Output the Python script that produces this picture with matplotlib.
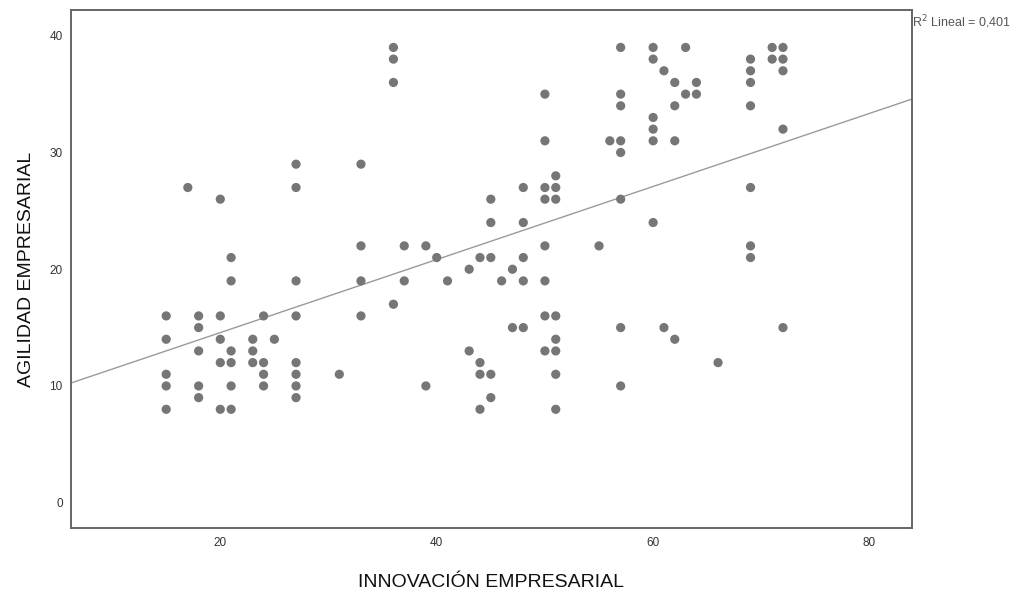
import numpy as np
import matplotlib
matplotlib.use("Agg")
import matplotlib.pyplot as plt

plt.rcParams['font.family'] = ['Liberation Sans', 'DejaVu Sans']

# INNOVACIÓN EMPRESARIAL score -> list of AGILIDAD EMPRESARIAL scores observed
innovacion = [15, 17, 18, 20, 21, 23, 24, 25, 27, 31, 33, 36, 37, 39, 40, 41, 43, 44,
              45, 46, 47, 48, 50, 51, 55, 56, 57, 60, 61, 62, 63, 64, 66, 69, 71, 72]
agilidad = [
    [16, 14, 11, 10, 8],
    [27],
    [16, 15, 13, 10, 9],
    [26, 16, 14, 12, 8],
    [21, 19, 13, 12, 10, 8],
    [14, 13, 12],
    [16, 12, 11, 10],
    [14],
    [29, 27, 19, 16, 12, 11, 10, 9],
    [11],
    [29, 22, 19, 16],
    [39, 38, 36, 17],
    [22, 19],
    [22, 10],
    [21],
    [19],
    [20, 13],
    [21, 12, 11, 8],
    [26, 24, 21, 11, 9],
    [19],
    [20, 15],
    [27, 24, 21, 19, 15],
    [35, 31, 27, 26, 22, 19, 16, 13],
    [28, 27, 26, 16, 14, 13, 11, 8],
    [22],
    [31],
    [39, 35, 34, 31, 30, 26, 15, 10],
    [39, 38, 33, 32, 31, 24],
    [37, 15],
    [36, 34, 31, 14],
    [39, 35],
    [36, 35],
    [12],
    [38, 37, 36, 34, 27, 22, 21],
    [39, 38],
    [39, 38, 37, 32, 15],
]

# Linear fit over the full sample (including tied cases)
fit_intercept = 8.31
fit_slope = 0.313
r2_label = "R$^2$ Lineal = 0,401"

x = np.array([xi for xi, ys in zip(innovacion, agilidad) for _ in ys], dtype=float)
y = np.array([yi for ys in agilidad for yi in ys], dtype=float)

fig = plt.figure(figsize=(10.21, 5.93), dpi=100)
ax = fig.add_axes([0.0695, 0.109, 0.8235, 0.874])

xlim = (6.2, 83.9)
ylim = (-2.2, 42.2)

ax.scatter(x, y, s=44, color='#767676', edgecolors='none', zorder=3)

xs = np.array(xlim)
ax.plot(xs, fit_intercept + fit_slope * xs, color='#9a9a9a', lw=1.0, zorder=2)

ax.set_xlim(*xlim)
ax.set_ylim(*ylim)
ax.set_xticks([20, 40, 60, 80])
ax.set_yticks([0, 10, 20, 30, 40])
ax.tick_params(length=0, labelsize=8.5, colors='#333333', pad=6)
for sp in ax.spines.values():
    sp.set_color('#666666')
    sp.set_linewidth(1.4)

ax.set_xlabel('INNOVACIÓN EMPRESARIAL', fontsize=14, color='#111111', labelpad=18)
ax.set_ylabel('AGILIDAD EMPRESARIAL', fontsize=14, color='#111111', labelpad=10)

ax.text(1.0, 0.977, r2_label, transform=ax.transAxes, fontsize=9,
        color='#555555', ha='left', va='center')

fig.savefig('out.png', dpi=100, facecolor='white')
